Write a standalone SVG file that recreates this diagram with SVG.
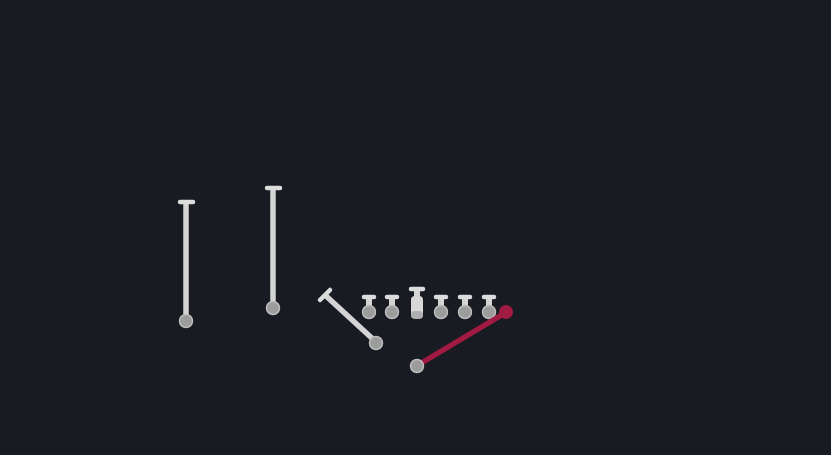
<svg xmlns="http://www.w3.org/2000/svg" width="831" height="455" viewBox="0 0 831 455">
<style>
.stem{stroke:#d4d4d4;stroke-width:5.5;stroke-linecap:butt}
.tee{stroke:#dcdcdc;stroke-width:4.5;stroke-linecap:round}
.ball{fill:#9c9c9c;stroke:#bdbdbd;stroke-width:1.5}
.sstem{stroke:#d4d4d4;stroke-width:6}
.red{stroke:#a01a42;stroke-width:5.5;stroke-linecap:round}
</style>
<rect width="831" height="455" fill="#181b22"/>
<g id="pin1"><line class="stem" x1="186" y1="202" x2="186" y2="318"/><line class="tee" x1="180" y1="202" x2="193" y2="202"/><circle class="ball" cx="186" cy="321" r="6.5"/></g>
<g id="pin2"><line class="stem" x1="273" y1="188" x2="273" y2="305"/><line class="tee" x1="267" y1="188" x2="280" y2="188"/><circle class="ball" cx="273" cy="308" r="6.5"/></g>
<g id="pin3"><line class="stem" x1="325" y1="295" x2="375" y2="341"/><line class="tee" x1="320" y1="300" x2="330" y2="290"/><circle class="ball" cx="376" cy="343" r="6.5"/></g>
<g id="pin4"><line class="sstem" x1="369" y1="297" x2="369" y2="308"/><line class="tee" x1="364" y1="297" x2="374" y2="297"/><circle class="ball" cx="369" cy="312" r="6.5"/></g>
<g id="pin5"><line class="sstem" x1="392" y1="297" x2="392" y2="308"/><line class="tee" x1="387" y1="297" x2="397" y2="297"/><circle class="ball" cx="392" cy="312" r="6.5"/></g>
<g id="pin6"><line class="sstem" x1="417" y1="289" x2="417" y2="300"/><line class="tee" x1="411" y1="289" x2="423" y2="289"/><rect x="411" y="296" width="12" height="22" rx="4" fill="#d8d8d8"/><rect x="411" y="311" width="12" height="8" rx="4" fill="#b0b0b0"/></g>
<g id="pin7"><line class="sstem" x1="441" y1="297" x2="441" y2="308"/><line class="tee" x1="436" y1="297" x2="446" y2="297"/><circle class="ball" cx="441" cy="312" r="6.5"/></g>
<g id="pin8"><line class="sstem" x1="465" y1="297" x2="465" y2="308"/><line class="tee" x1="460" y1="297" x2="470" y2="297"/><circle class="ball" cx="465" cy="312" r="6.5"/></g>
<g id="pin9"><line class="sstem" x1="489" y1="297" x2="489" y2="308"/><line class="tee" x1="484" y1="297" x2="494" y2="297"/><circle class="ball" cx="489" cy="312" r="6.5"/></g>
<g id="connectors"><line class="red" x1="418" y1="365" x2="505" y2="313"/><circle cx="506" cy="312" r="7" fill="#a01a42"/><circle class="ball" cx="417" cy="366" r="6.5"/></g>
</svg>
